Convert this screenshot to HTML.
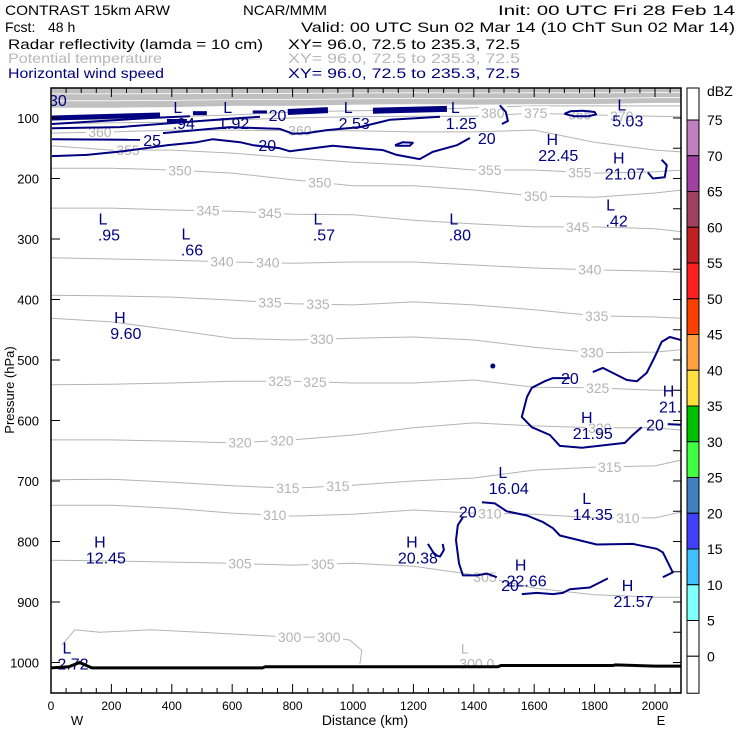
<!DOCTYPE html>
<html><head><meta charset="utf-8">
<style>
html,body{margin:0;padding:0;background:#fff;}
svg{display:block;font-family:"Liberation Sans",sans-serif;}
</style></head>
<body>
<svg id="chart" width="740" height="740" viewBox="0 0 740 740" xmlns="http://www.w3.org/2000/svg">
<g font-size="14">
<text x="5" y="15" fill="#000" textLength="165" lengthAdjust="spacingAndGlyphs">CONTRAST 15km ARW</text>
<text x="243" y="15" fill="#000" textLength="84" lengthAdjust="spacingAndGlyphs">NCAR/MMM</text>
<text x="498" y="15" fill="#000" textLength="237" lengthAdjust="spacingAndGlyphs">Init: 00 UTC Fri 28 Feb 14</text>
<text x="5" y="32" fill="#000">Fcst:</text>
<text x="48" y="32" fill="#000">48 h</text>
<text x="301" y="32" fill="#000" textLength="434" lengthAdjust="spacingAndGlyphs">Valid: 00 UTC Sun 02 Mar 14 (10 ChT Sun 02 Mar 14)</text>
<text x="8" y="49" fill="#000" textLength="255" lengthAdjust="spacingAndGlyphs">Radar reflectivity (lamda = 10 cm)</text>
<text x="288" y="49" fill="#000" textLength="232" lengthAdjust="spacingAndGlyphs">XY=  96.0, 72.5 to 235.3, 72.5</text>
<text x="8" y="63" fill="#b8b8b8" textLength="154" lengthAdjust="spacingAndGlyphs">Potential temperature</text>
<text x="288" y="63" fill="#b8b8b8" textLength="232" lengthAdjust="spacingAndGlyphs">XY=  96.0, 72.5 to 235.3, 72.5</text>
<text x="8" y="78" fill="#000080" textLength="156" lengthAdjust="spacingAndGlyphs">Horizontal wind speed</text>
<text x="288" y="78" fill="#000080" textLength="232" lengthAdjust="spacingAndGlyphs">XY=  96.0, 72.5 to 235.3, 72.5</text>
</g>
<g id="plot"></g>
<g id="cbar"></g>
</svg>
<script>
// ---- data ----
const gridKm = [0,200,400,600,800,1000,1200,1400,1600,1800,2000,2090];
const thetaLevels = [305,310,315,320,325,330,335,340,345,350,355,360,365,370];
const theta305 = [831,832,834,836,839,836,841,855,877,888,892,892];
const theta310 = [740,740,745,753,758,755,748,753,755,761,761,751];
const theta315 = [698,697,702,708,712,707,700,695,682,677,675,665];
const theta320 = [632,632,634,637,632,624,612,604,609,612,612,616];
const theta325 = [541,540,538,535,535,538,538,533,545,546,550,550];
const theta330 = [431,437,450,464,467,464,462,467,479,488,487,483];
const theta335 = [393,394,396,401,407,409,404,409,417,427,429,431];
const theta340 = [331,333,335,338,340,338,338,343,348,351,353,355];
const theta345 = [249,249,252,254,259,260,269,275,280,280,283,288];
const theta350 = [183,183,186,191,202,212,212,219,229,231,224,219];
const theta355 = [146,153,153,158,166,173,178,186,186,191,189,186];
const theta360 = [125,123,120,120,121,121,123,123,120,140,153,156];
const theta365 = [110,108,107,103,100,98,97,97,92,95,97,98];
const theta370 = [103,102,98,95,90,88,87,83,80,80,80,80];
const thetaSeries = [theta305,theta310,theta315,theta320,theta325,theta330,theta335,theta340,theta345,theta350,theta355,theta360,theta365,theta370];
const thetaLabelKm = [[626,900,1437],[741,1453,1910],[784,950,1850],[626,765,1817],[758,874,1810],[897,1791],[725,884,1807],[566,718,1784],[520,725,1744],[427,890,1605],[255,1453,1751],[162,824],[],[]];
const theta300Km = [36,79,162,328,493,791,923,990,1029,1023];
const theta300P = [971,946,950,946,950,958,958,963,980,1003];
const bandBottomP = [83,83,82,80,80,78,77,78,77,77,75,75];
const groundKm = [0,60,95,135,700,710,1480,1490,1860,1870,2000,2090];
const groundP = [1009,1007,1000,1009,1009,1007,1007,1005,1005,1004,1006,1006];
// wind speed contours: arrays of [km,hPa]
const windA1 = [[1794,520],[1827,513],[1907,533],[1940,535],[1973,521],[1999,495],[2022,470],[2049,462],[2086,467]];
const windA2 = [[1718,530],[1662,530],[1635,535],[1592,546],[1576,561],[1559,594],[1592,611],[1652,624],[1685,642],[1758,645],[1900,637],[1926,624],[1956,611]];
const windA3 = [[2042,606],[2086,607]];
const windB1 = [[1427,735],[1470,737],[1509,750],[1576,757],[1629,768],[1662,778],[1685,790],[1807,805],[1926,804],[2006,812],[2026,818],[2059,851],[2026,859]];
const windB2 = [[1364,760],[1347,773],[1341,798],[1351,836],[1364,856],[1410,856],[1443,853],[1476,859]];
const windB3 = [[1559,887],[1609,885],[1662,887],[1695,885],[1718,879],[1784,876],[1844,861]];
const windHook = [[1248,804],[1271,822],[1288,825],[1301,814],[1297,804]];
const windC = [[3,163],[119,161],[238,155],[384,145],[483,140],[536,135],[626,140],[669,145],[758,150],[791,155],[867,150],[933,146],[1023,150],[1099,153],[1145,161],[1221,168],[1264,156],[1344,145],[1387,133]];
const windC2 = [[1493,110],[1513,105],[1506,90],[1486,79]];
const windD1 = [[3,135],[295,136]];
const windD2 = [[371,125],[592,115],[758,118],[801,126],[847,125],[914,120],[1023,115],[1122,103],[1221,100],[1288,98]];
const windE = [[3,117],[228,115],[493,105],[626,100],[692,98]];
const windF = [[3,110],[328,100],[460,97]];
const windLoop1 = [[1139,145],[1165,140],[1198,141],[1188,146],[1145,146],[1139,145]];
const windLoop2 = [[1700,93],[1720,89],[1760,88],[1800,90],[1805,94],[1780,97],[1730,97],[1700,93]];
const windHook2 = [[2022,169],[2039,178],[2032,198],[1993,200],[1976,190]];
const windThick = [[[3,100],[361,95],5],[[384,105],[450,105],4],[[470,92],[516,92],4],[[668,90],[715,90],3],[[784,90],[917,87],6],[[1066,88],[1311,85],6]];
// contour line labels [text, km, hPa]
const windLabels = [["25",335,136],["20",716,145],["20",750,95],["20",1443,133],["20",1718,530],["20",2000,607],["20",1380,750],["20",1520,872]];
// extrema labels [letter, value, km, hPa]
const extrema = [["L",".94",420,92],["L","1.92",585,92],["L","2.53",984,92],["L","1.25",1339,92],["L","5.03",1890,88],
["H","22.45",1660,145],["H","21.07",1880,175],["L",".95",172,276],["L",".66",447,301],["L",".57",884,276],["L",".80",1334,276],["L",".42",1853,253],
["H","9.60",228,439],["H","21.95",1774,604],["H","21.7",2045,560],["L","16.04",1496,695],["L","14.35",1774,738],
["H","12.45",162,810],["H","20.38",1195,810],["H","22.66",1555,848],["H","21.57",1909,882],["L","2.72",53,985]];
const pTicks = [100,200,300,400,500,600,700,800,900,1000];
const kmTicks = [0,200,400,600,800,1000,1200,1400,1600,1800,2000];
const cbarLevels = [75,70,65,60,55,50,45,40,35,30,25,20,15,10,5,0];
const cbarColors = ["#ffffff","#c080c0","#a040a0","#a04060","#c02020","#ff2020","#ff4000","#ffa040","#ffe040","#00c000","#40ff40","#4080c0","#4040ff","#40c0ff","#80ffff","#ffffff","#ffffff"];

// ---- scales ----
const L=51,R=681,T=88,B=693;
function X(km){return L+km*0.302;}
function Y(p){return 118+(p-100)*0.605;}
const NS="http://www.w3.org/2000/svg";
const plot=document.getElementById('plot');
function mk(tag,attrs,parent){const e=document.createElementNS(NS,tag);for(const k in attrs)e.setAttribute(k,attrs[k]);(parent||plot).appendChild(e);return e;}
function interp(xs,ys,x){for(let i=0;i<xs.length-1;i++){if(x>=xs[i]&&x<=xs[i+1]){const t=(x-xs[i])/(xs[i+1]-xs[i]);return ys[i]+t*(ys[i+1]-ys[i]);}}return ys[ys.length-1];}
function ptsKmP(arr){return arr.map(a=>X(a[0]).toFixed(1)+","+Y(a[1]).toFixed(1)).join(" ");}

const defs=mk('defs',{});
const cp=mk('clipPath',{id:'clip'},defs);
mk('rect',{x:L,y:T,width:R-L,height:B-T},cp);
const g=mk('g',{'clip-path':'url(#clip)'});



// theta contours
thetaSeries.forEach((s,i)=>{
  const pl=gridKm.map((k,j)=>X(k).toFixed(1)+","+Y(s[j]).toFixed(1)).join(" ");
  const l=mk('polyline',{points:pl,fill:'none',stroke:'#b4b4b4','stroke-width':1},g);
  
  
  thetaLabelKm[i].forEach(km=>{
    const x=X(km),y=Y(interp(gridKm,s,km));
    const r=mk('rect',{x:x-14,y:y-7,width:28,height:14,fill:'#fff'},g);
    
    
    const t=mk('text',{x:x,y:y+5,'text-anchor':'middle','font-size':14,fill:'#b4b4b4'},g);
    t.textContent=thetaLevels[i];
    
    
  });
});

// gray band (drawn over upper contours)
let bandPts=X(0)+","+T+" "+X(2090)+","+T+" ";
for(let i=gridKm.length-1;i>=0;i--)bandPts+=X(gridKm[i]).toFixed(1)+","+Y(bandBottomP[i]).toFixed(1)+" ";
const band=mk('polygon',{points:bandPts,fill:'#c0c0c0'},g);


[0.3,0.65].forEach(f=>{
  const pl=gridKm.map((k,i)=>X(k).toFixed(1)+","+(T+(Y(bandBottomP[i])-T)*f).toFixed(1)).join(" ");
  const l=mk('polyline',{points:pl,fill:'none',stroke:'#fff','stroke-width':0.8},g);
  
  
});

{
  const pl=theta300Km.map((k,i)=>X(k).toFixed(1)+","+Y(theta300P[i]).toFixed(1)).join(" ");
  const l=mk('polyline',{points:pl,fill:'none',stroke:'#b4b4b4','stroke-width':1},g);
  
  
  [[790,958],[920,958]].forEach(a=>{
    const r=mk('rect',{x:X(a[0])-14,y:Y(a[1])-7,width:28,height:14,fill:'#fff'},g);
    
    
    const t=mk('text',{x:X(a[0]),y:Y(a[1])+5,'text-anchor':'middle','font-size':14,fill:'#b4b4b4'},g);
    t.textContent='300';
    
    
  });
  const tl=mk('text',{x:X(1370),y:Y(985),'text-anchor':'middle','font-size':14,fill:'#b4b4b4'},g);
  tl.textContent='L';
  
  
  const tv=mk('text',{x:X(1410),y:Y(1010),'text-anchor':'middle','font-size':14,fill:'#b4b4b4'},g);
  tv.textContent='300.0';
  
  
}
[["380",1463,92],["375",1605,92],["365",1751,94],["370",1890,97]].forEach(a=>{
  const r=mk('rect',{x:X(a[1])-14,y:Y(a[2])-7,width:28,height:14,fill:'#fff'},g);
  
  
  const t=mk('text',{x:X(a[1]),y:Y(a[2])+5,'text-anchor':'middle','font-size':14,fill:'#b4b4b4'},g);
  t.textContent=a[0];
  
  
});

// wind contours
[windA1,windA2,windA3,windB1,windB2,windB3,windHook,windC,windC2,windD1,windD2,windE,windF,windLoop1,windLoop2,windHook2].forEach(c=>{
  const l=mk('polyline',{points:ptsKmP(c),fill:'none',stroke:'#000080','stroke-width':2,'stroke-linejoin':'round'},g);
  
  
});
windThick.forEach(s=>{
  const l=mk('line',{x1:X(s[0][0]),y1:Y(s[0][1]),x2:X(s[1][0]),y2:Y(s[1][1]),stroke:'#000080','stroke-width':s[2]},g);
  
  
});
const dot=mk('circle',{cx:X(1463),cy:Y(510),r:2.5,fill:'#000080'},g);


windLabels.forEach(a=>{
  const t=mk('text',{x:X(a[1]),y:Y(a[2])+6,'text-anchor':'middle','font-size':16,fill:'#000080'},g);
  t.textContent=a[0];
  
  
});
extrema.forEach(a=>{
  const t1=mk('text',{x:X(a[2]),y:Y(a[3]),'text-anchor':'middle','font-size':16,fill:'#000080'},g);
  t1.textContent=a[0];
  
  
  const t2=mk('text',{x:X(a[2])+6,y:Y(a[3])+16,'text-anchor':'middle','font-size':16,fill:'#000080'},g);
  t2.textContent=a[1];
  
  
});
{
  const t=mk('text',{x:L-2,y:Y(80),'font-size':16,fill:'#000080'},g);
  t.textContent='30';
  
  
}
{
  const pl=groundKm.map((k,i)=>X(k).toFixed(1)+","+Y(groundP[i]).toFixed(1)).join(" ");
  const l=mk('polyline',{points:pl,fill:'none',stroke:'#000','stroke-width':3},g);
  
  
}

const fr=mk('rect',{x:L,y:T,width:R-L,height:B-T,fill:'none',stroke:'#000','stroke-width':1.5});


pTicks.forEach(p=>{
  const y=Y(p);
  const a=mk('line',{x1:L,y1:y,x2:L+9,y2:y,stroke:'#000'});
  
  
  const t=mk('text',{x:L-12,y:y+5,'text-anchor':'end','font-size':13,fill:'#000'});
  t.textContent=p;
  
  
});
for(let p=100;p<=1050;p+=50){
  const a=mk('line',{x1:R-8,y1:Y(p),x2:R,y2:Y(p),stroke:'#000'});
  
  
}
for(let k=0;k<=2090;k+=50){
  const len=(k%200===0)?9:5;
  const a=mk('line',{x1:X(k),y1:B,x2:X(k),y2:B-len,stroke:'#000'});
  
  
  const b=mk('line',{x1:X(k),y1:T,x2:X(k),y2:T+len,stroke:'#000'});
  
  
}
kmTicks.forEach(k=>{
  const t=mk('text',{x:X(k),y:B+17,'text-anchor':'middle','font-size':12,fill:'#000'});
  t.textContent=k;
  
  
});
[['W',77,'west-label'],['E',661,'east-label']].forEach(a=>{
  const t=mk('text',{x:a[1],y:725,'text-anchor':'middle','font-size':13,fill:'#000'});
  t.textContent=a[0];
  
  
});
{
  const t=mk('text',{x:365,y:725,'text-anchor':'middle','font-size':14,fill:'#000'});
  t.textContent='Distance (km)';
  
  
  const t2=mk('text',{x:0,y:0,'text-anchor':'middle','font-size':13,fill:'#000',transform:'translate(14,390) rotate(-90)'});
  t2.textContent='Pressure (hPa)';
  
  
}

const cb=document.getElementById('cbar');
const cbTop=88,cbStep=35.75,cbX=687,cbW=12;
let yy=cbTop;
cbarColors.forEach((c,i)=>{
  const h=(i===0)?32:(i===cbarColors.length-1?37:cbStep);
  const r=mk('rect',{x:cbX,y:yy,width:cbW,height:h,fill:c,stroke:'#000','stroke-width':1},cb);
  
  
  yy+=h;
});
cbarLevels.forEach((v,i)=>{
  const t=mk('text',{x:707,y:120+i*cbStep+5,'font-size':14,fill:'#000'},cb);
  t.textContent=v;
  
  
});
{
  const t=mk('text',{x:707,y:96,'font-size':14,fill:'#000'},cb);
  t.textContent='dBZ';
  
  
}
</script>
</body></html>
